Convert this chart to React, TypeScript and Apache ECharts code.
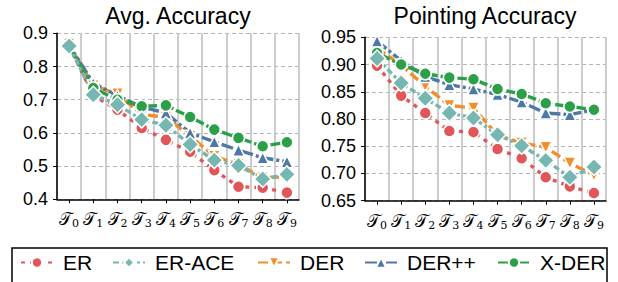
import React, { useEffect, useRef } from "react";
import * as echarts from "echarts";

const tasks = ["0", "1", "2", "3", "4", "5", "6", "7", "8", "9"];
const seriesNames = ["ER", "ER-ACE", "DER", "DER++", "X-DER"];

// Avg. Accuracy
const avgER = [0.862, 0.713, 0.67, 0.615, 0.579, 0.543, 0.488, 0.438, 0.435, 0.42];
const avgERACE = [0.862, 0.715, 0.685, 0.64, 0.623, 0.565, 0.518, 0.502, 0.461, 0.475];
const avgDER = [0.868, 0.742, 0.718, 0.655, 0.648, 0.59, 0.53, 0.505, 0.465, 0.468];
const avgDERpp = [0.865, 0.75, 0.712, 0.678, 0.66, 0.6, 0.573, 0.548, 0.525, 0.513];
const avgXDER = [0.862, 0.735, 0.7, 0.68, 0.683, 0.648, 0.61, 0.585, 0.56, 0.572];

// Pointing Accuracy
const ptER = [0.898, 0.843, 0.811, 0.778, 0.776, 0.745, 0.728, 0.693, 0.676, 0.664];
const ptERACE = [0.911, 0.866, 0.838, 0.811, 0.802, 0.771, 0.751, 0.724, 0.693, 0.712];
const ptDER = [0.93, 0.899, 0.86, 0.825, 0.82, 0.77, 0.756, 0.748, 0.719, 0.697];
const ptDERpp = [0.943, 0.907, 0.878, 0.863, 0.855, 0.845, 0.831, 0.811, 0.808, 0.817];
const ptXDER = [0.921, 0.9, 0.883, 0.876, 0.873, 0.855, 0.846, 0.829, 0.823, 0.817];

const avgTicks = { min: 0.4, max: 0.9, interval: 0.1, digits: 1 };
const ptTicks = { min: 0.65, max: 0.95, interval: 0.05, digits: 2 };

const FONT = "Liberation Sans";

const styles: Record<string, any> = {
  "ER": { color: "#E15759", symbol: "circle", size: 12, dash: [4, 5], rotate: 0 },
  "ER-ACE": { color: "#76B7B2", symbol: "diamond", size: 17, dash: [6, 3, 3, 3], rotate: 0 },
  "DER": { color: "#F28E2B", symbol: "triangle", size: 12, dash: [10, 4], rotate: 180 },
  "DER++": { color: "#4E79A7", symbol: "triangle", size: 12, dash: [12, 3, 3, 3], rotate: 0 },
  "X-DER": { color: "#2CA048", symbol: "circle", size: 12, dash: [14, 3], rotate: 0 },
};

const drawOrder = ["ER", "DER", "DER++", "X-DER", "ER-ACE"];

function makeSeries(name: string, data: number[], idx: number) {
  const s = styles[name];
  return {
    name,
    type: "line",
    xAxisIndex: idx,
    yAxisIndex: idx,
    data,
    symbol: s.symbol,
    symbolSize: s.size,
    symbolRotate: s.rotate,
    showSymbol: true,
    lineStyle: { color: s.color, width: 3.4, type: s.dash, cap: "butt" },
    itemStyle: { color: s.color, borderColor: "#ffffff", borderWidth: 1.5 },
  };
}

function xAxis(gridIndex: number) {
  return {
    type: "category",
    gridIndex,
    data: tasks,
    boundaryGap: true,
    axisLine: { show: true, lineStyle: { color: "#000", width: 1.5 } },
    axisTick: { show: true, alignWithLabel: true, length: 4, lineStyle: { color: "#000", width: 1 } },
    splitLine: { show: true, interval: 0, lineStyle: { color: "#c8c8c8", width: 1.8, type: "solid" } },
    axisLabel: {
      interval: 0,
      margin: 10,
      formatter: (v: string) => `{t|𝒯}{s|${v}}`,
      rich: {
        t: { fontFamily: "DejaVu Serif", fontSize: 17, color: "#000" },
        s: { fontFamily: "DejaVu Serif", fontSize: 11, color: "#000", padding: [9, 0, 0, 0] },
      },
    },
  };
}

function yAxis(gridIndex: number, t: any) {
  return {
    type: "value",
    gridIndex,
    min: t.min,
    max: t.max,
    interval: t.interval,
    axisLine: { show: true, lineStyle: { color: "#000", width: 1.5 } },
    axisTick: { show: true, length: 4, lineStyle: { color: "#000", width: 1 } },
    splitLine: { show: true, lineStyle: { color: "#b4b4b4", width: 1, type: [4, 3] } },
    axisLabel: {
      margin: 9,
      fontSize: 18,
      fontFamily: FONT,
      color: "#000",
      formatter: (v: number) => v.toFixed(t.digits),
    },
  };
}

const legendLefts = [20, 112, 257, 364, 497];

export default function App() {
  const ref = useRef<HTMLDivElement>(null);
  useEffect(() => {
    if (!ref.current) return;
    const chart = echarts.init(ref.current, undefined, { renderer: "svg" });
    const avgData: Record<string, number[]> = {
      "ER": avgER, "ER-ACE": avgERACE, "DER": avgDER, "DER++": avgDERpp, "X-DER": avgXDER,
    };
    const ptData: Record<string, number[]> = {
      "ER": ptER, "ER-ACE": ptERACE, "DER": ptDER, "DER++": ptDERpp, "X-DER": ptXDER,
    };
    const series: any[] = [];
    drawOrder.forEach((n) => series.push(makeSeries(n, avgData[n], 0)));
    drawOrder.forEach((n) => series.push(makeSeries(n, ptData[n], 1)));

    chart.setOption({
      animation: false,
      textStyle: { fontFamily: FONT },
      title: [
        {
          text: "Avg. Accuracy", left: 178, top: 4, textAlign: "center", padding: 0,
          textStyle: { fontSize: 23, fontWeight: "normal", color: "#000", fontFamily: FONT },
        },
        {
          text: "Pointing Accuracy", left: 485, top: 4, textAlign: "center", padding: 0,
          textStyle: { fontSize: 23, fontWeight: "normal", color: "#000", fontFamily: FONT },
        },
      ],
      grid: [
        { left: 57, top: 33.3, width: 242, height: 166 },
        { left: 365, top: 37.3, width: 241, height: 163.4 },
      ],
      xAxis: [xAxis(0), xAxis(1)],
      yAxis: [yAxis(0, avgTicks), yAxis(1, ptTicks)],
      legend: seriesNames.map((n, i) => ({
        data: [n],
        left: legendLefts[i],
        top: 252,
        padding: 0,
        itemWidth: 32,
        itemHeight: 13,
        selectedMode: false,
        textStyle: { fontSize: 21, color: "#000", fontFamily: FONT, padding: [0, 0, 0, 5] },
      })),
      graphic: [
        {
          type: "rect",
          shape: { x: 12, y: 248, width: 595, height: 50 },
          style: { fill: "none", stroke: "#000", lineWidth: 1.5 },
          silent: true,
        },
      ],
      series,
    });
    return () => chart.dispose();
  }, []);
  return (
    <div
      ref={ref}
      style={{ position: "fixed", left: 0, top: 0, width: 618, height: 282, background: "#fff" }}
    />
  );
}
